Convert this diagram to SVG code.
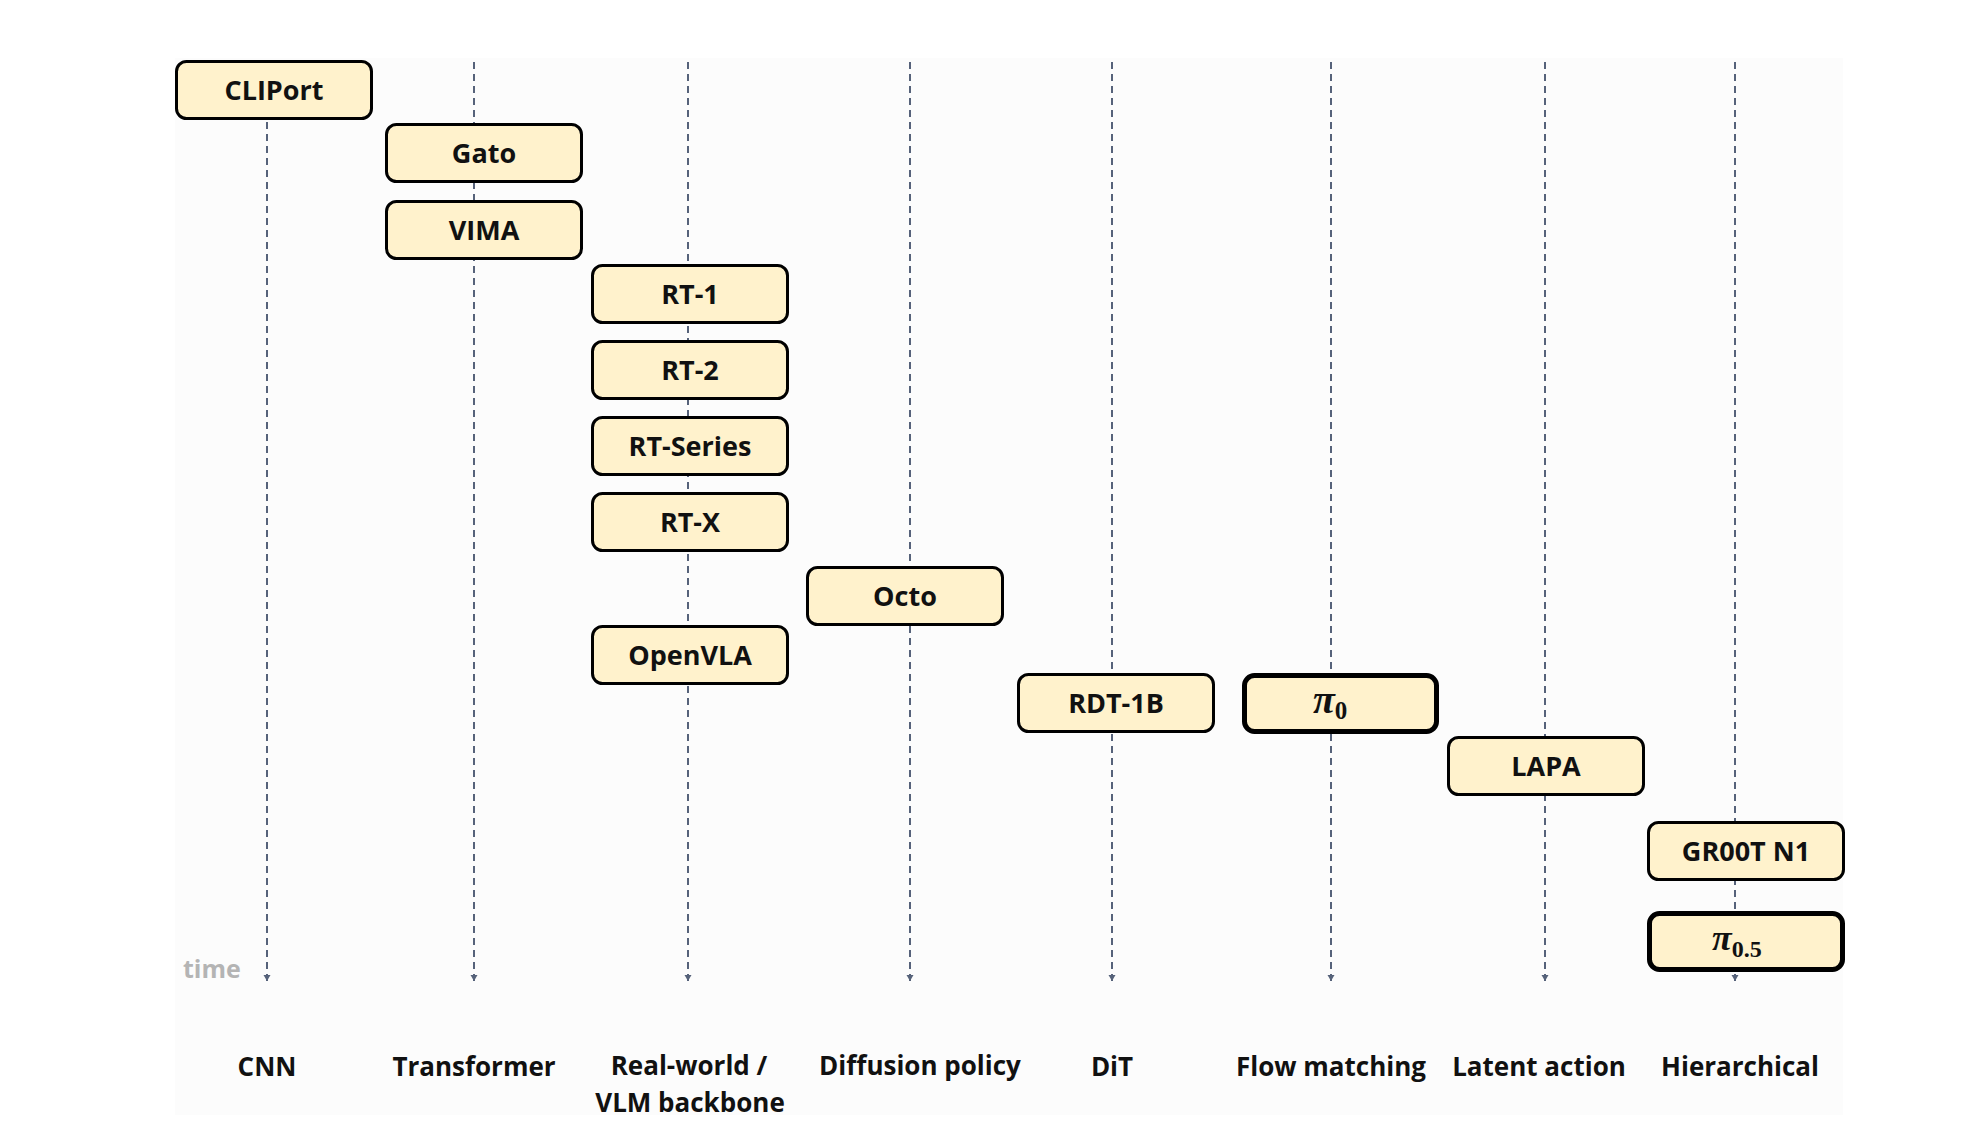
<svg xmlns="http://www.w3.org/2000/svg" width="1973" height="1143" viewBox="0 0 1973 1143">
<defs>
<style>
.panel{fill:#fcfcfc;stroke:none}
.axis{stroke:#56627a;stroke-width:2;stroke-dasharray:7 5;fill:none}
.box{fill:#fff2cc;stroke:#000;stroke-width:3}
.boxb{fill:#fff2cc;stroke:#000;stroke-width:5}
.t{font-family:"Open Sans","Liberation Sans",sans-serif;font-weight:700;font-size:27px;fill:#111;text-anchor:middle}
.lbl{font-family:"Open Sans","Liberation Sans",sans-serif;font-weight:700;font-size:26px;fill:#111;text-anchor:middle}
.time{font-family:"Open Sans","Liberation Sans",sans-serif;font-weight:700;font-size:25px;fill:#b4b4b4}
.pi{font-family:"Liberation Serif","DejaVu Serif",serif;font-weight:700;font-style:italic;fill:#111}
.sub{font-family:"Liberation Serif","DejaVu Serif",serif;font-weight:700;font-style:normal;fill:#111}
</style>
<marker id="arr" markerUnits="userSpaceOnUse" markerWidth="8" markerHeight="8" refX="4" refY="0" viewBox="-4 -6 8 8" orient="auto-start-reverse" overflow="visible">
<path d="M-3.5,-5 L3.5,-5 L0,1 Z" fill="#56627a" transform="rotate(-90)"/>
</marker>
</defs>
<rect width="1973" height="1143" fill="#ffffff"/>
<rect class="panel" x="175" y="58" width="1668" height="1057"/>

<g id="connectors">
<line class="axis" x1="267" y1="62" x2="267" y2="984" marker-end="url(#arr)"/>
<line class="axis" x1="474" y1="62" x2="474" y2="984" marker-end="url(#arr)"/>
<line class="axis" x1="688" y1="62" x2="688" y2="984" marker-end="url(#arr)"/>
<line class="axis" x1="910" y1="62" x2="910" y2="984" marker-end="url(#arr)"/>
<line class="axis" x1="1112" y1="62" x2="1112" y2="984" marker-end="url(#arr)"/>
<line class="axis" x1="1331" y1="62" x2="1331" y2="984" marker-end="url(#arr)"/>
<line class="axis" x1="1545" y1="62" x2="1545" y2="984" marker-end="url(#arr)"/>
<line class="axis" x1="1735" y1="62" x2="1735" y2="984" marker-end="url(#arr)"/>
</g>

<g id="node-cliport"><rect class="box" x="176.5" y="61.5" width="195" height="57" rx="10"/><text class="t" x="274" y="100">CLIPort</text></g>
<g id="node-gato"><rect class="box" x="386.5" y="124.5" width="195" height="57" rx="10"/><text class="t" x="484" y="163">Gato</text></g>
<g id="node-vima"><rect class="box" x="386.5" y="201.5" width="195" height="57" rx="10"/><text class="t" x="484" y="240">VIMA</text></g>
<g id="node-rt1"><rect class="box" x="592.5" y="265.5" width="195" height="57" rx="10"/><text class="t" x="690" y="304">RT-1</text></g>
<g id="node-rt2"><rect class="box" x="592.5" y="341.5" width="195" height="57" rx="10"/><text class="t" x="690" y="380">RT-2</text></g>
<g id="node-rtseries"><rect class="box" x="592.5" y="417.5" width="195" height="57" rx="10"/><text class="t" x="690" y="456">RT-Series</text></g>
<g id="node-rtx"><rect class="box" x="592.5" y="493.5" width="195" height="57" rx="10"/><text class="t" x="690" y="532">RT-X</text></g>
<g id="node-octo"><rect class="box" x="807.5" y="567.5" width="195" height="57" rx="10"/><text class="t" x="905" y="606">Octo</text></g>
<g id="node-openvla"><rect class="box" x="592.5" y="626.5" width="195" height="57" rx="10"/><text class="t" x="690" y="665">OpenVLA</text></g>
<g id="node-rdt1b"><rect class="box" x="1018.5" y="674.5" width="195" height="57" rx="10"/><text class="t" x="1116" y="713">RDT-1B</text></g>
<g id="node-pi0"><rect class="boxb" x="1244.5" y="675.5" width="192" height="56" rx="10"/><text class="pi" x="1313" y="713" font-size="40">π<tspan class="sub" font-size="25" dy="6">0</tspan></text></g>
<g id="node-lapa"><rect class="box" x="1448.5" y="737.5" width="195" height="57" rx="10"/><text class="t" x="1546" y="776">LAPA</text></g>
<g id="node-groot"><rect class="box" x="1648.5" y="822.5" width="195" height="57" rx="10"/><text class="t" x="1746" y="861">GR00T N1</text></g>
<g id="node-pi05"><rect class="boxb" x="1649.5" y="913.5" width="193" height="56" rx="10"/><text class="pi" x="1712" y="950" font-size="36">π<tspan class="sub" font-size="24" dy="7">0.5</tspan></text></g>

<g id="labels">
<text class="time" x="183" y="978">time</text>
<text class="lbl" x="267" y="1076">CNN</text>
<text class="lbl" x="474" y="1076">Transformer</text>
<text class="lbl" x="689" y="1075">Real-world /</text>
<text class="lbl" x="690" y="1112">VLM backbone</text>
<text class="lbl" x="920" y="1075">Diffusion policy</text>
<text class="lbl" x="1112" y="1076">DiT</text>
<text class="lbl" x="1331" y="1076">Flow matching</text>
<text class="lbl" x="1539" y="1076">Latent action</text>
<text class="lbl" x="1740" y="1076">Hierarchical</text>
</g>
</svg>
